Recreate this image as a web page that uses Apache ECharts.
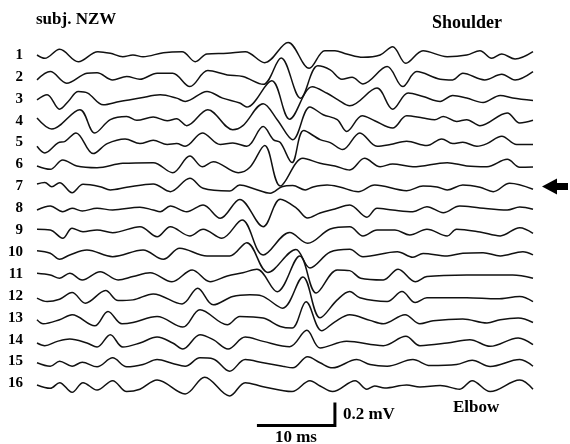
<!DOCTYPE html>
<html><head><meta charset="utf-8">
<script src="https://cdn.jsdelivr.net/npm/echarts@6.0.0/dist/echarts.min.js"></script>
<style>html,body{margin:0;padding:0;background:#fff}#c{width:570px;height:444px}</style>
</head><body><div id="c"></div>
<script>
// time in ms, amplitude in µV (relative to each trace's own baseline)
const traceLabels = ['1','2','3','4','5','6','7','8','9','10','11','12','13','14','15','16'];
const trace1 = [[0,0],[1.0,-29],[2.9,50],[5.3,-58],[7.8,29],[9.4,15],[11.0,-15],[12.3,0],[13.6,-15],[16.2,20],[18.6,29],[20.3,-58],[21.8,9],[24.4,15],[26.7,29],[29.2,-67],[32.2,109],[34.9,-116],[36.9,37],[38.2,37],[39.7,9],[41.8,-20],[44.0,0],[45.6,72],[47.3,-72],[49.5,37],[52.6,-15],[55.1,0],[56.8,37],[58.3,-29],[59.6,9],[61.3,-35],[63.6,29]];
const trace2 = [[0,-26],[1.7,46],[3.8,-55],[6.4,32],[7.7,37],[9.7,-26],[11.5,3],[13.2,-20],[15.4,32],[17.4,32],[19.6,-84],[21.9,55],[24.4,17],[26.4,3],[29.0,-65],[31.3,165],[33.8,-185],[36.0,96],[37.6,61],[39.1,-20],[40.4,-3],[41.8,-61],[44.9,90],[46.9,-84],[48.7,46],[51.7,-20],[53.3,-26],[54.6,32],[57.4,-26],[59.6,23],[61.3,-26],[63.6,46]];
const trace3 = [[0,-9],[1.3,35],[2.9,-90],[4.0,-23],[5.3,64],[6.5,50],[8.5,-52],[10.6,-23],[13.2,6],[15.8,35],[17.9,6],[19.0,-23],[21.8,64],[23.8,6],[26.0,-37],[26.9,-72],[30.1,157],[32.4,-177],[35.3,104],[37.2,48],[38.6,-9],[40.1,-61],[43.6,93],[45.6,-90],[47.6,50],[49.5,20],[51.7,-23],[53.3,29],[55.1,6],[57.2,-32],[59.4,29],[61.0,6],[63.6,-15]];
const trace4 = [[0,23],[1.9,-72],[5.5,96],[7.4,-107],[9.4,9],[11.5,37],[12.8,3],[14.9,32],[16.7,0],[17.9,17],[19.2,-43],[21.9,96],[25.1,-78],[26.4,-43],[29.0,148],[30.8,9],[32.8,-165],[35.0,119],[36.7,52],[38.5,9],[39.7,-93],[41.7,43],[43.3,0],[45.6,-64],[47.4,43],[49.5,23],[51.0,9],[52.1,37],[53.8,-6],[55.1,9],[56.8,-43],[60.3,67],[61.9,-20],[63.6,3]];
const trace5 = [[0,-32],[1.0,-90],[2.7,-3],[3.6,11],[5.0,84],[7.2,-96],[9.0,-9],[11.3,32],[13.2,-9],[14.9,20],[16.7,-17],[17.9,-9],[19.0,-32],[21.2,84],[23.5,-17],[25.1,-3],[26.9,-32],[29.0,139],[30.3,26],[31.2,0],[32.7,-174],[34.2,104],[36.3,26],[37.6,0],[39.2,-61],[41.4,84],[43.6,-32],[45.3,-17],[47.4,11],[50.0,-26],[51.9,32],[53.3,-9],[54.6,3],[56.4,-32],[57.7,-9],[59.6,55],[61.5,-17],[63.6,-17]];
const trace6 = [[0,-13],[1.7,-42],[3.3,39],[5.1,-13],[7.7,-28],[11.0,10],[14.9,16],[17.4,-71],[19.6,74],[21.2,-19],[22.6,24],[25.8,-71],[27.3,-24],[29.2,165],[31.2,-187],[34.1,54],[36.3,10],[38.2,-13],[40.1,-48],[42.0,54],[44.0,-19],[45.6,4],[48.2,-19],[52.6,16],[55.1,-13],[57.7,-19],[60.3,45],[61.9,-24],[63.6,-22]];
const trace7 = [[0,21],[1.0,34],[1.9,-3],[2.9,32],[4.5,-55],[5.9,18],[8.1,-3],[9.4,-31],[11.5,-8],[14.9,21],[17.1,-46],[19.6,70],[21.3,-17],[24.7,-40],[26.0,12],[27.9,-23],[29.9,-60],[31.4,-3],[32.8,8],[34.4,-31],[35.4,-5],[37.2,12],[38.8,-5],[41.2,-46],[43.3,12],[47.4,-37],[49.5,3],[51.3,-5],[52.6,-31],[54.6,12],[56.8,-8],[58.5,-46],[60.6,27],[63.6,-25]];
const trace8 = [[0,-15],[1.7,20],[3.3,-30],[4.5,0],[5.8,-23],[7.7,0],[9.7,-15],[13.2,9],[14.9,-15],[15.8,-30],[17.1,20],[19.2,-30],[21.3,29],[23.5,-87],[26.0,77],[29.0,-160],[31.2,78],[33.3,0],[34.7,-84],[36.3,-41],[38.2,-6],[40.1,29],[42.3,-78],[43.6,0],[45.6,-15],[48.2,-30],[50.0,14],[52.1,-38],[54.2,20],[56.8,3],[60.3,-15],[61.9,11],[63.6,-9]];
const trace9 = [[0,8],[1.7,2],[3.3,-70],[4.5,17],[5.9,-13],[7.7,2],[9.7,-22],[13.2,30],[15.4,-57],[17.1,30],[19.6,-50],[21.3,8],[23.7,-70],[26.3,89],[29.0,-216],[32.4,-20],[34.7,-114],[37.6,10],[40.1,30],[41.8,-50],[43.6,2],[45.9,2],[47.8,-42],[50.0,8],[52.6,-50],[53.8,8],[56.8,-16],[59.4,-50],[61.9,22],[63.6,-27]];
const trace10 = [[0,12],[1.7,-10],[2.9,-63],[4.2,-25],[6.4,18],[9.7,-40],[13.6,18],[16.2,-63],[18.3,33],[21.8,-34],[24.7,-34],[26.9,82],[29.6,-177],[33.2,23],[35.0,-138],[37.6,1],[40.1,24],[41.8,-40],[46.2,3],[48.2,-45],[49.5,-12],[52.6,-34],[54.6,-10],[57.2,-5],[59.4,-34],[62.3,3],[63.6,-25]];
const trace11 = [[0,6],[1.7,-9],[2.9,-37],[4.2,6],[5.8,-52],[8.1,20],[10.4,-52],[12.3,-23],[14.5,11],[17.3,-67],[19.9,35],[22.2,-67],[24.4,-17],[26.4,11],[28.2,41],[30.8,-154],[33.7,157],[35.8,-165],[38.5,35],[40.1,29],[41.5,-37],[44.4,-52],[46.3,41],[48.5,-67],[50.0,-23],[55.1,-9],[58.5,-9],[61.0,-9],[63.6,-37]];
const trace12 = [[0,-20],[1.3,-50],[2.9,-29],[4.5,29],[6.2,-64],[8.8,46],[10.4,-41],[12.3,-35],[14.9,17],[18.6,-70],[20.6,67],[22.6,-78],[25.1,-6],[27.3,9],[28.8,0],[31.5,-107],[34.1,165],[36.3,-191],[38.5,-35],[40.1,37],[41.4,-17],[44.9,-50],[46.8,37],[48.5,-58],[50.0,-17],[55.1,-17],[59.0,-26],[61.9,-6],[63.6,-50]];
const trace13 = [[0,-17],[0.8,-52],[2.9,-17],[4.5,26],[7.4,-70],[9.1,55],[10.9,-52],[12.3,-41],[15.4,11],[18.7,-81],[20.9,70],[24.4,-61],[26.0,11],[29.0,-3],[31.2,-76],[32.7,-90],[34.5,139],[36.5,-113],[38.2,-35],[40.1,26],[42.7,-23],[44.4,-52],[47.2,26],[49.1,-52],[50.8,-26],[54.6,-11],[57.7,-46],[59.4,-17],[61.7,-3],[63.6,-41]];
const trace14 = [[0,-29],[1.0,-52],[2.6,-15],[4.2,6],[6.4,-29],[7.7,-64],[9.4,43],[11.0,-64],[13.2,-29],[15.4,23],[17.4,-29],[18.7,-81],[20.9,43],[22.6,0],[24.5,-81],[26.7,23],[29.0,-15],[32.4,-61],[34.6,81],[36.3,-72],[39.7,-15],[44.4,-52],[47.3,29],[49.1,-52],[52.6,-29],[55.5,0],[58.1,-58],[61.7,15],[63.6,-43]];
const trace15 = [[0,-11],[1.7,-41],[2.9,3],[4.5,-41],[5.8,-6],[7.7,-46],[9.7,32],[11.5,-46],[13.6,-26],[15.4,17],[17.4,-17],[19.0,-41],[20.9,32],[22.6,23],[24.7,-84],[26.7,17],[29.0,-11],[31.5,-41],[32.8,-55],[34.7,41],[36.3,-11],[37.9,-55],[41.0,17],[42.7,-26],[44.9,-41],[48.2,17],[50.4,-35],[53.8,-26],[55.8,11],[58.1,-43],[61.9,17],[63.6,-41]];
const trace16 = [[0,-13],[1.7,-42],[2.9,7],[4.5,-77],[5.9,7],[7.7,-57],[9.7,24],[11.5,-71],[13.2,-50],[15.4,30],[19.0,-91],[21.5,54],[24.7,-109],[26.7,7],[29.0,-28],[32.7,-71],[35.0,24],[36.3,-22],[37.9,-71],[40.8,24],[42.3,-50],[43.3,-22],[44.6,-39],[47.4,-13],[49.1,-30],[51.7,-17],[54.2,-50],[55.8,24],[58.1,-71],[61.9,30],[63.6,-50]];
const traces = [trace1,trace2,trace3,trace4,trace5,trace6,trace7,trace8,trace9,trace10,trace11,trace12,trace13,trace14,trace15,trace16];
const scaleBarTime = 10;   // ms
const scaleBarAmp = 200;   // µV
const scaleBarText = ['10 ms','0.2 mV'];
const markedTrace = 7;     // arrow
const titleText = 'subj. NZW', topText = 'Shoulder', bottomText = 'Elbow';

// layout
const traceSpacing = 190.4;          // µV between baselines (display offset)
const scaleBarOrigin = [28.2, -3222]; // left end of the time bar
const FONT = '"Liberation Serif","Times New Roman",serif';

const chart = echarts.init(document.getElementById('c'));
const series = traces.map((tr, i) => ({
  type: 'line', data: tr.map(([t, v]) => [t, v - i * traceSpacing]),
  smooth: 0.35, showSymbol: false, silent: true,
  lineStyle: { color: '#111', width: 1.5 }
}));
const [bx, by] = scaleBarOrigin;
series.push({
  type: 'line', silent: true, showSymbol: false, smooth: false,
  data: [[bx, by], [bx + scaleBarTime, by], [bx + scaleBarTime, by + scaleBarAmp]],
  lineStyle: { color: '#000', width: 3, cap: 'butt', join: 'miter' }
});
chart.setOption({
  animation: false,
  grid: { left: 37, right: 37, top: 9, bottom: 9.5 },
  xAxis: { type: 'value', min: 0, max: 63.6, show: false },
  yAxis: { type: 'value', min: -3300, max: 400, show: false },
  series
});

function txt(text, x, y, size, align, valign) {
  return { type: 'text', silent: true, style: { text, x, y, fill: '#000',
    font: 'bold ' + size + 'px ' + FONT, textAlign: align || 'left', textVerticalAlign: valign || 'middle' } };
}
const els = [];
traceLabels.forEach((lab, i) => {
  const p = chart.convertToPixel({ gridIndex: 0 }, [0, -i * traceSpacing]);
  els.push(txt(lab, 23, p[1], 15, 'right'));
});
els.push(txt(titleText, 36, 20, 17));
els.push(txt(topText, 432, 23, 18));
els.push(txt(bottomText, 453, 408, 17));
const pv = chart.convertToPixel({ gridIndex: 0 }, [bx + scaleBarTime, by + scaleBarAmp / 2]);
els.push(txt(scaleBarText[1], pv[0] + 8, pv[1] + 1, 17));
const ph = chart.convertToPixel({ gridIndex: 0 }, [bx + scaleBarTime / 2, by]);
els.push(txt(scaleBarText[0], ph[0], ph[1] + 12, 17, 'center'));
const pa = chart.convertToPixel({ gridIndex: 0 }, [0, -(markedTrace - 1) * traceSpacing]);
const ay = pa[1];
els.push({ type: 'polygon', silent: true, shape: { points: [[542, ay], [557, ay - 8], [557, ay - 3.5], [568, ay - 3.5], [568, ay + 3.5], [557, ay + 3.5], [557, ay + 8]] }, style: { fill: '#000' } });
chart.setOption({ graphic: { elements: els } });
</script></body></html>
